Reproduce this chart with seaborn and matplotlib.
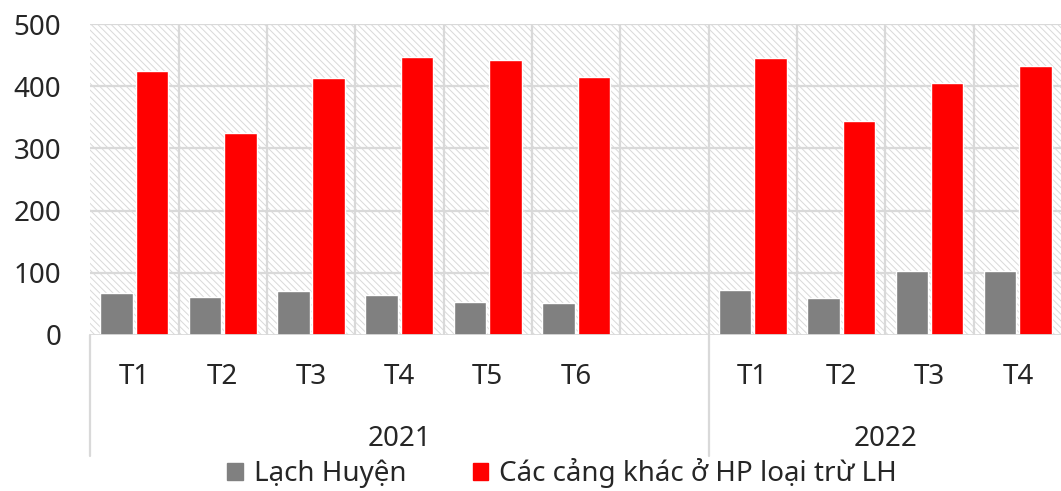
"""Sản lượng container qua cảng Hải Phòng theo tháng (Lạch Huyện vs các cảng khác)."""

import matplotlib

matplotlib.use("Agg")
import matplotlib.pyplot as plt  # noqa: E402
import pandas as pd  # noqa: E402
import seaborn as sns  # noqa: E402
from matplotlib.patches import Patch, Rectangle  # noqa: E402
from matplotlib.transforms import blended_transform_factory  # noqa: E402

# dữ liệu
YEARS = ["2021"] * 6 + ["2022"] * 4
MONTHS = ["T1", "T2", "T3", "T4", "T5", "T6", "T1", "T2", "T3", "T4"]
LACH_HUYEN = [67, 61, 71, 64, 53, 51, 72, 59, 103, 103]
CANG_KHAC = [424, 325, 413, 447, 442, 415, 445, 344, 405, 432]
SERIES = ["Lạch Huyện", "Các cảng khác ở HP loại trừ LH"]

GRAY, RED, GRID = "#808080", "#ff0000", "#d9d9d9"
FONT = ["Noto Sans", "DejaVu Sans"]

sns.set_theme(style="white")
plt.rcParams["font.family"] = FONT
plt.rcParams["hatch.color"] = GRID
plt.rcParams["hatch.linewidth"] = 0.7

keys = [f"{y}-{m}" for y, m in zip(YEARS, MONTHS)]
order = keys[:6] + ["gap"] + keys[6:]
df = pd.DataFrame({"key": keys * 2, "series": [SERIES[0]] * 10 + [SERIES[1]] * 10, "value": LACH_HUYEN + CANG_KHAC})

fig = plt.figure(figsize=(10.61, 4.91), dpi=100)
ax = fig.add_axes([0.085, 0.318, 0.916, 0.633])

# nền gạch chéo kiểu Excel
ax.add_patch(
    Rectangle((0, 0), 1, 1, transform=ax.transAxes, facecolor="white", edgecolor=GRID, hatch="\\\\\\\\\\", lw=0, zorder=0)
)

sns.barplot(
    data=df,
    x="key",
    y="value",
    hue="series",
    order=order,
    hue_order=SERIES,
    palette=[GRAY, RED],
    saturation=1,
    width=0.8,
    gap=0.08,
    legend=False,
    ax=ax,
    zorder=3,
)

ax.set_xlim(-0.5, 10.5)
ax.set_ylim(0, 500)
ax.set_yticks(range(0, 501, 100))
ax.tick_params(axis="y", labelsize=20, length=0, pad=21)
for y in range(100, 501, 100):
    ax.axhline(y, color=GRID, lw=1.6, zorder=1)
for x in range(1, 11):
    ax.axvline(x - 0.5, color=GRID, lw=1.6, zorder=1)
ax.axhline(0, color=GRID, lw=2, zorder=4)

labels = MONTHS[:6] + [""] + MONTHS[6:]
ax.set_xticks(range(11), labels)
ax.tick_params(axis="x", labelsize=20, length=0, pad=20)
ax.set_xlabel("")
ax.set_ylabel("")
for sp in ax.spines.values():
    sp.set_visible(False)

# trục nhiều cấp: năm + vạch phân cách
tr = blended_transform_factory(ax.transData, ax.transAxes)
for x in (-0.5, 6.5, 10.5):
    ax.plot([x, x], [0, -0.39], transform=tr, color=GRID, lw=1.6, clip_on=False)
ax.text(3, -0.335, "2021", transform=tr, ha="center", va="center", fontsize=20)
ax.text(8.5, -0.335, "2022", transform=tr, ha="center", va="center", fontsize=20)

handles = [Patch(color=GRAY, label=SERIES[0]), Patch(color=RED, label=SERIES[1])]
fig.legend(
    handles=handles,
    loc="lower center",
    bbox_to_anchor=(0.53, -0.045),
    ncol=2,
    frameon=False,
    fontsize=20,
    handlelength=0.55,
    handleheight=0.55,
    handletextpad=0.4,
    columnspacing=2.4,
)

fig.savefig("out.png", dpi=100)
